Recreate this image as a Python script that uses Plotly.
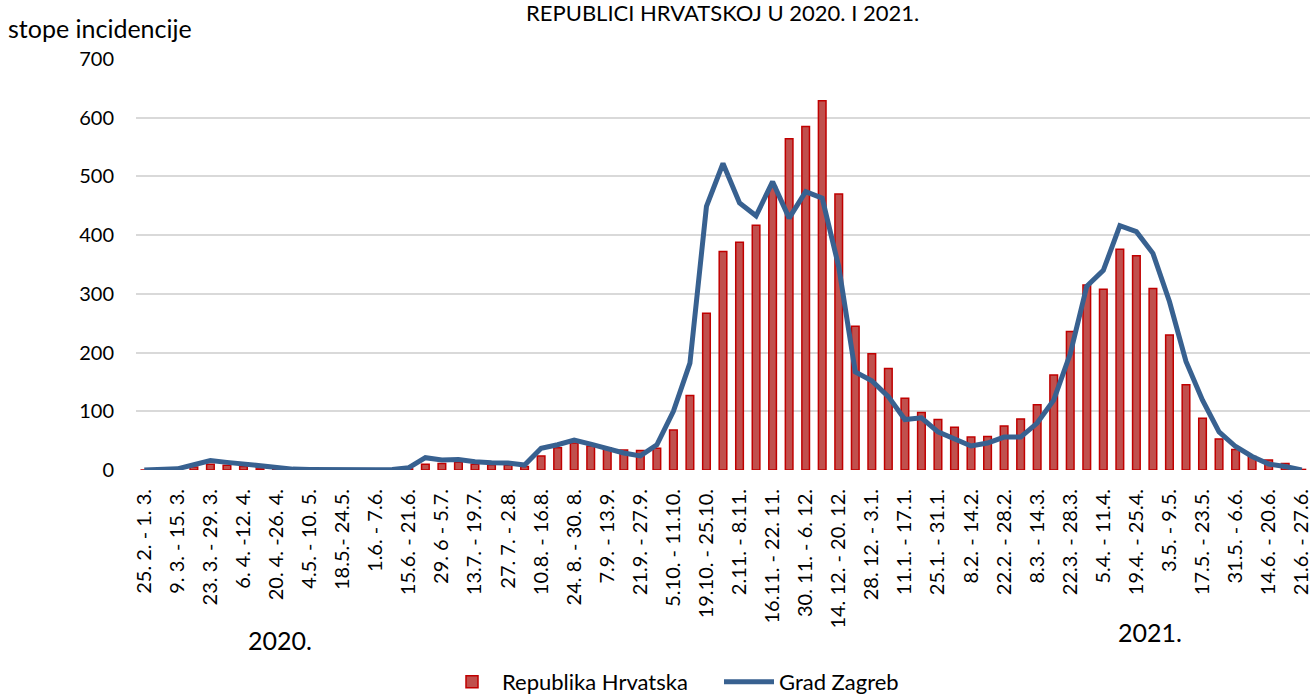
import plotly.graph_objects as go

# Displayed tick labels (every second week)
tick_labels = ["25. 2. - 1. 3.", "9. 3. - 15. 3.", "23. 3. - 29. 3.", "6. 4. -12. 4.", "20. 4. -26. 4.",
               "4.5. - 10. 5.", "18.5.- 24.5.", "1.6. - 7.6.", "15.6. - 21.6.", "29. 6 - 5.7.",
               "13.7. - 19.7.", "27. 7. - 2.8.", "10.8. - 16.8.", "24. 8. - 30. 8.", "7.9. - 13.9.",
               "21.9. - 27.9.", "5.10. - 11.10.", "19.10. - 25.10.", "2.11. - 8.11.", "16.11. - 22. 11.",
               "30. 11. - 6. 12.", "14. 12. - 20. 12.", "28. 12. - 3.1.", "11.1. - 17.1.", "25.1. - 31.1.",
               "8.2. - 14.2.", "22.2. - 28.2.", "8.3. - 14.3.", "22.3. - 28.3.", "5.4. - 11.4.",
               "19.4. - 25.4.", "3.5. - 9.5.", "17.5. - 23.5.", "31.5. - 6.6.", "14.6. - 20.6.",
               "21.6. - 27.6."]

# Weeks between the labelled ones (not displayed)
between_labels = ["2.3. - 8.3.", "16.3. - 22.3.", "30.3. - 5.4.", "13.4. - 19.4.", "27.4. - 3.5.",
                  "11.5. - 17.5.", "25.5. - 31.5.", "8.6. - 14.6.", "22.6. - 28.6.", "6.7. - 12.7.",
                  "20.7. - 26.7.", "3.8. - 9.8.", "17.8. - 23.8.", "31.8. - 6.9.", "14.9. - 20.9.",
                  "28.9. - 4.10.", "12.10. - 18.10.", "26.10. - 1.11.", "9.11. - 15.11.", "23.11. - 29.11.",
                  "7.12. - 13.12.", "21.12. - 27.12.", "4.1. - 10.1.", "18.1. - 24.1.", "1.2. - 7.2.",
                  "15.2. - 21.2.", "1.3. - 7.3.", "15.3. - 21.3.", "29.3. - 4.4.", "12.4. - 18.4.",
                  "26.4. - 2.5.", "10.5. - 16.5.", "24.5. - 30.5.", "7.6. - 13.6.", "21. 6. - 27. 6."]

weeks = []
for k, lab in enumerate(tick_labels):
    weeks.append(lab)
    if k < len(between_labels):
        weeks.append(between_labels[k])

republika_hrvatska = [0, 0.5, 2, 5, 10, 8, 6, 2, 1, 0.5,
                      0.3, 0.3, 0.2, 0.2, 0.3, 0.5, 2, 10, 11, 13,
                      10, 9, 8, 6, 24, 38, 46, 41, 38, 34,
                      33, 37, 68, 127, 267, 372, 388, 417, 483, 564,
                      585, 629, 470, 245, 198, 173, 122, 98, 86, 73,
                      56, 57, 75, 87, 111, 162, 236, 315, 308, 376,
                      365, 309, 230, 145, 88, 53, 35, 23, 17, 11,
                      1]

grad_zagreb = [0, 0, 2, 9, 16, 13, 10, 6, 3, 1.5,
               1, 0.5, 0.5, 0.5, 0.5, 1, 4, 21, 17, 18,
               14, 12.5, 12, 8.5, 37, 43, 51, 44, 36, 29,
               24, 43, 100, 182, 449, 522, 455, 433, 491, 429,
               474, 463, 346, 167, 152, 125, 86, 89, 65, 54,
               41, 46, 56, 56, 80, 119, 198, 313, 340, 416,
               406, 369, 287, 185, 119, 65, 40, 23, 10, 6,
               0]

FONT = "Lato"
W, H = 1312, 697
ML, MR, MT, MB = 136, 2, 59, 227
PW, PH = W - ML - MR, H - MT - MB


def px(x):
    return (x - ML) / PW


def py(y):
    return (H - MB - y) / PH


fig = go.Figure()
fig.add_trace(go.Bar(
    x=weeks, y=republika_hrvatska, name="Republika Hrvatska",
    marker=dict(color="#C0504D", line=dict(color="#C00000", width=1.5)),
))
fig.add_trace(go.Scatter(
    x=weeks, y=grad_zagreb, name="Grad Zagreb", mode="lines",
    line=dict(color="#386190", width=5),
))

fig.update_layout(
    width=W, height=H,
    margin=dict(l=ML, r=MR, t=MT, b=MB, autoexpand=False),
    paper_bgcolor="white", plot_bgcolor="white",
    font=dict(family=FONT, size=20, color="#000000"),
    bargap=0.54,
    showlegend=True,
    legend=dict(orientation="h", x=px(442), xanchor="left", y=py(682), yanchor="middle",
                font=dict(size=22), traceorder="normal", bgcolor="rgba(0,0,0,0)",
                itemwidth=50, entrywidth=212, entrywidthmode="pixels"),
    xaxis=dict(type="category", tickvals=tick_labels, tickangle=-90, showgrid=False,
               ticks="", showline=False, tickfont=dict(size=20), ticklabelstandoff=14,
               automargin=False),
    yaxis=dict(range=[0, 700], dtick=100, showgrid=True, gridcolor="#D9D9D9", gridwidth=1.5,
               zeroline=False, showline=False, ticks="", tickfont=dict(size=20),
               ticklabelstandoff=21, automargin=False),
    annotations=[
        dict(text="REPUBLICI HRVATSKOJ U 2020. I 2021.", x=px(722), y=py(13), xref="paper", yref="paper",
             xanchor="center", yanchor="middle", showarrow=False, font=dict(size=22)),
        dict(text="stope incidencije", x=px(6), y=py(28), xref="paper", yref="paper",
             xanchor="left", yanchor="middle", showarrow=False, font=dict(size=25)),
        dict(text="2020.", x=px(280), y=py(640), xref="paper", yref="paper",
             xanchor="center", yanchor="middle", showarrow=False, font=dict(size=25)),
        dict(text="2021.", x=px(1150), y=py(632), xref="paper", yref="paper",
             xanchor="center", yanchor="middle", showarrow=False, font=dict(size=25)),
    ],
)

fig.write_html("out.html", config={"displayModeBar": False},
               post_script="document.body.style.margin='0';")
